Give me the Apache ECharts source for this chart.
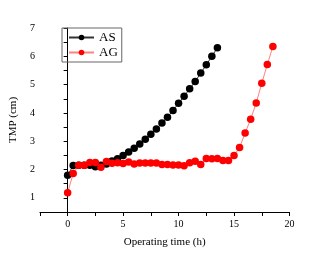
<!DOCTYPE html>
<html>
<head>
<meta charset="utf-8">
<script src="https://cdn.jsdelivr.net/npm/echarts@6/dist/echarts.min.js"></script>
<style>
  html, body { margin: 0; padding: 0; background: #fff; }
  #tmpChart { width: 322px; height: 253px; }
</style>
</head>
<body>
<div id="tmpChart"></div>
<script>
// operating time (h), 0.5 h steps
var timeAS = [0, 0.5, 1, 1.5, 2, 2.5, 3, 3.5, 4, 4.5, 5, 5.5, 6, 6.5, 7, 7.5, 8, 8.5, 9, 9.5,
  10, 10.5, 11, 11.5, 12, 12.5, 13, 13.5]
var tmpAS = [1.80, 2.14, 2.15, 2.15, 2.15, 2.10, 2.15, 2.20, 2.30, 2.38, 2.50, 2.62, 2.75, 2.90,
  3.07, 3.25, 3.43, 3.64, 3.85, 4.09, 4.34, 4.59, 4.85, 5.11, 5.41, 5.70, 6.00, 6.30]

var timeAG = [0, 0.5, 1, 1.5, 2, 2.5, 3, 3.5, 4, 4.5, 5, 5.5, 6, 6.5, 7, 7.5, 8, 8.5, 9, 9.5,
  10, 10.5, 11, 11.5, 12, 12.5, 13, 13.5, 14, 14.5, 15, 15.5, 16, 16.5, 17, 17.5, 18, 18.5]
var tmpAG = [1.18, 1.86, 2.15, 2.15, 2.25, 2.25, 2.08, 2.28, 2.22, 2.24, 2.21, 2.27, 2.20, 2.23,
  2.23, 2.23, 2.23, 2.18, 2.18, 2.16, 2.16, 2.13, 2.24, 2.29, 2.18, 2.39, 2.38, 2.39,
  2.32, 2.32, 2.50, 2.78, 3.29, 3.78, 4.35, 5.05, 5.71, 6.35]

var xTicks = [0, 5, 10, 15, 20]
var yTicks = [1, 2, 3, 4, 5, 6, 7]

function pairs (xs, ys) {
  return xs.map(function (x, i) { return [x, ys[i]] })
}

var font = 'Liberation Serif, Times New Roman, serif'
var chart = echarts.init(document.getElementById('tmpChart'))

var option = {
  backgroundColor: '#fff',
  animation: false,
  textStyle: { fontFamily: font },
  grid: { left: 39, top: 28, width: 250.5, height: 184 },
  legend: {
    left: 62,
    top: 28,
    orient: 'vertical',
    itemWidth: 25,
    itemHeight: 7,
    itemGap: 2,
    padding: [3, 4, 3, 6],
    borderColor: '#666',
    borderWidth: 1,
    textStyle: { fontFamily: font, fontSize: 13, color: '#000' },
    data: ['AS', 'AG']
  },
  xAxis: {
    type: 'value',
    min: -2.5,
    max: 20,
    interval: 2.5,
    name: 'Operating time (h)',
    nameLocation: 'middle',
    nameGap: 25,
    nameTextStyle: { fontFamily: font, fontSize: 11, color: '#000' },
    axisLine: { lineStyle: { color: '#000', width: 1 } },
    axisTick: { inside: false, length: 4, lineStyle: { color: '#000' } },
    axisLabel: {
      fontFamily: font,
      fontSize: 10,
      color: '#000',
      margin: 7,
      formatter: function (v) { return xTicks.indexOf(v) >= 0 ? String(v) : '' }
    },
    splitLine: { show: false }
  },
  yAxis: {
    type: 'value',
    min: 0.5,
    max: 7,
    interval: 0.5,
    name: 'TMP (cm)',
    nameLocation: 'middle',
    nameGap: 20,
    nameTextStyle: { fontFamily: font, fontSize: 11, color: '#000' },
    axisLine: { show: true, lineStyle: { color: '#000', width: 1 } },
    axisTick: { show: true, inside: false, length: 4, lineStyle: { color: '#000' } },
    axisLabel: {
      fontFamily: font,
      fontSize: 10,
      color: '#000',
      margin: 5,
      formatter: function (v) { return yTicks.indexOf(v) >= 0 ? String(v) : '' }
    },
    splitLine: { show: false }
  },
  series: [
    {
      name: 'AS',
      type: 'line',
      data: pairs(timeAS, tmpAS),
      symbol: 'circle',
      symbolSize: 7.5,
      itemStyle: { color: '#000' },
      lineStyle: { color: '#333', width: 1 }
    },
    {
      name: 'AG',
      type: 'line',
      data: pairs(timeAG, tmpAG),
      symbol: 'circle',
      symbolSize: 7.5,
      itemStyle: { color: '#ff0000' },
      lineStyle: { color: '#ff8080', width: 1 }
    }
  ]
}

chart.setOption(option)
</script>
</body>
</html>
